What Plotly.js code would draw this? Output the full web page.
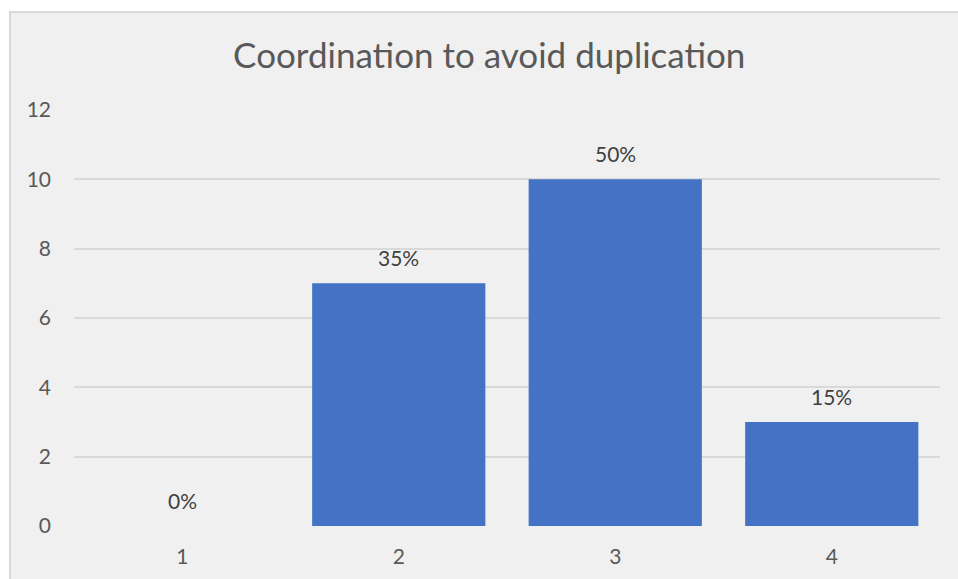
<!DOCTYPE html>
<html>
<head>
<meta charset="utf-8">
<script src="https://cdn.plot.ly/plotly-3.0.1.min.js"></script>
<style>
html, body { margin:0; padding:0; background:#ffffff; width:958px; height:579px; overflow:hidden; }
#frame { position:absolute; left:9px; top:11px; width:960px; height:580px; background:#f0f0f0; border-left:2px solid #d9d9d9; border-top:2px solid #d9d9d9; }
#chart { position:absolute; left:0; top:0; width:947px; height:566px; }
</style>
</head>
<body>
<div id="frame"><div id="chart"></div></div>
<script>
const categories = ["1", "2", "3", "4"];
const values = [0, 7, 10, 3];
const labels = ["0%", "35%", "50%", "15%"];
const yTicks = [0, 2, 4, 6, 8, 10, 12];

const font = "Lato, 'Open Sans', sans-serif";

const trace = {
  type: "bar",
  x: categories,
  y: values,
  marker: { color: "#4472c4" },
  hoverinfo: "none"
};

const annotations = categories.map((c, i) => ({
  x: i, y: values[i], xref: "x", yref: "y",
  text: labels[i], showarrow: false,
  yanchor: "bottom", yshift: 11,
  font: { family: font, size: 21, color: "#404040" }
}));

const layout = {
  width: 947, height: 566,
  margin: { l: 63, r: 18, t: 97, b: 53 },
  paper_bgcolor: "#f0f0f0",
  plot_bgcolor: "#f0f0f0",
  bargap: 0.2,
  showlegend: false,
  title: {
    text: "Coordination to avoid duplication",
    font: { family: font, size: 35, color: "#595959" },
    x: 0.505, xanchor: "center", xref: "container",
    y: 1 - 43 / 566, yref: "container", yanchor: "middle"
  },
  xaxis: {
    type: "category",
    range: [-0.5, 3.5],
    showgrid: false, zeroline: false, showline: false,
    ticks: "", ticklabelstandoff: 16,
    tickfont: { family: font, size: 21, color: "#595959" }
  },
  yaxis: {
    range: [0, 12],
    tickvals: yTicks,
    ticktext: yTicks.map(String),
    showgrid: true, gridcolor: "#d9d9d9", gridwidth: 2,
    zeroline: false, showline: false,
    ticks: "", ticklabelstandoff: 22,
    tickfont: { family: font, size: 21, color: "#595959" }
  },
  annotations: annotations
};

Plotly.newPlot("chart", [trace], layout, { staticPlot: true, displayModeBar: false });
</script>
</body>
</html>
